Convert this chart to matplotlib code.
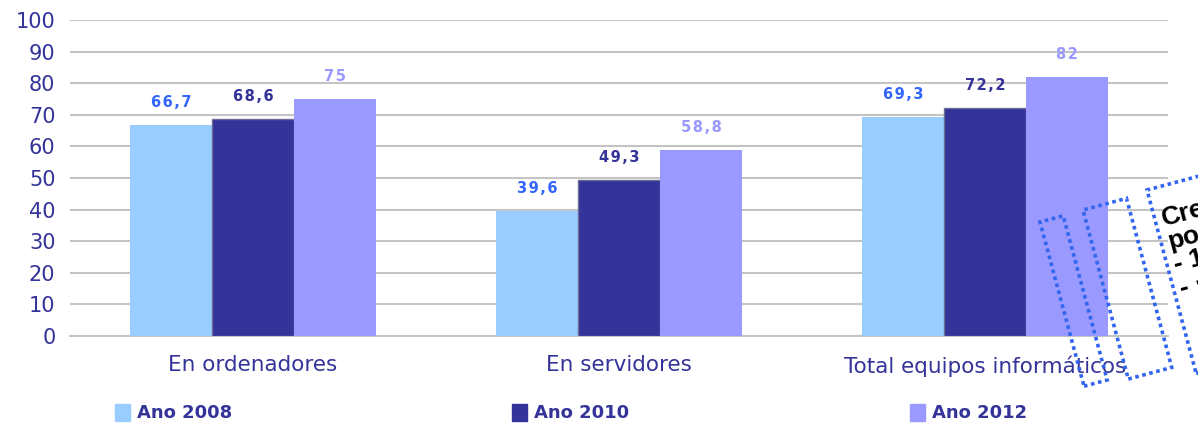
import numpy as np
import matplotlib.pyplot as plt
from matplotlib.patches import Rectangle
import matplotlib.transforms as mtransforms

categories = ['En ordenadores', 'En servidores', 'Total equipos informáticos']
series_names = ['Ano 2008', 'Ano 2010', 'Ano 2012']
ano2008 = [66.7, 39.6, 69.3]
ano2010 = [68.6, 49.3, 72.2]
ano2012 = [75, 58.8, 82]
label2008 = ['66,7', '39,6', '69,3']
label2010 = ['68,6', '49,3', '72,2']
label2012 = ['75', '58,8', '82']

bar_colors = ['#99ccff', '#333399', '#9999ff']
text_colors = ['#3366ff', '#333399', '#9999ff']
axis_color = '#333399'

fig = plt.figure(figsize=(11.98, 4.25), dpi=100)
ax = fig.add_axes([70/1198, 1-336/425, (1168-70)/1198, (336-20)/425])

x = np.arange(len(categories))
w = 0.224
allvals = [ano2008, ano2010, ano2012]
alllabels = [label2008, label2010, label2012]
for k, (vals, labs) in enumerate(zip(allvals, alllabels)):
    pos = x + (k-1)*w
    ax.bar(pos, vals, w, color=bar_colors[k], edgecolor='#6c6c99' if k == 1 else bar_colors[k],
           linewidth=1 if k == 1 else 0, zorder=3)
    for p, v, l in zip(pos, vals, labs):
        # spread the characters a little, like the original
        ax.annotate('\u200a'.join(l), (p, v), xytext=(0, 11), textcoords='offset points', ha='center',
                    va='bottom', fontsize=10.5, fontweight='bold', color=text_colors[k])

ax.set_xlim(-0.5, 2.5)
ax.set_ylim(0, 100)
ax.set_yticks(range(0, 101, 10))
ax.grid(axis='y', color='#c4c4c4', linewidth=1.5, zorder=0)
for s in ['top', 'right', 'left']:
    ax.spines[s].set_visible(False)
ax.spines['bottom'].set_color('#c4c4c4')
ax.spines['bottom'].set_linewidth(1.5)
ax.tick_params(axis='y', length=0, labelsize=15, labelcolor=axis_color, pad=10.5)
ax.tick_params(axis='x', length=0, labelsize=15.5, labelcolor=axis_color, pad=14)
ax.set_xticks(x)
ax.set_xticklabels(categories)

# legend along the bottom
legend_x = [115, 512, 910]
for k, name in enumerate(series_names):
    fig.patches.append(Rectangle((legend_x[k]/1198, 1-421/425), 15/1198, 17/425,
                                 transform=fig.transFigure, color=bar_colors[k]))
    fig.text((legend_x[k]+22)/1198, 1-413/425, name, fontsize=13, fontweight='bold',
             color=axis_color, va='center', ha='left')

# dotted stamp on the right edge (display pixels, y up)
stamps = [(1040, 203, 24, 170), (1083, 215, 45, 175), (1147, 235, 110, 190)]
for (x0, y0, ww, hh) in stamps:
    tr = mtransforms.Affine2D().rotate_deg_around(x0, y0, 15)
    fig.patches.append(Rectangle((x0, y0-hh), ww, hh, fill=False, edgecolor='#3366ee',
                                 linestyle=(0, (1, 1)), linewidth=2.6, transform=tr))
fig.text(1171/1198, 1-254/425, 'Creado\npor\n- 1\n- \u00b7', fontsize=19, fontweight='bold',
         family='Liberation Sans', color='black', rotation=15, rotation_mode='anchor',
         ha='left', va='center', linespacing=1.0)

fig.savefig('out.png', dpi=100)
